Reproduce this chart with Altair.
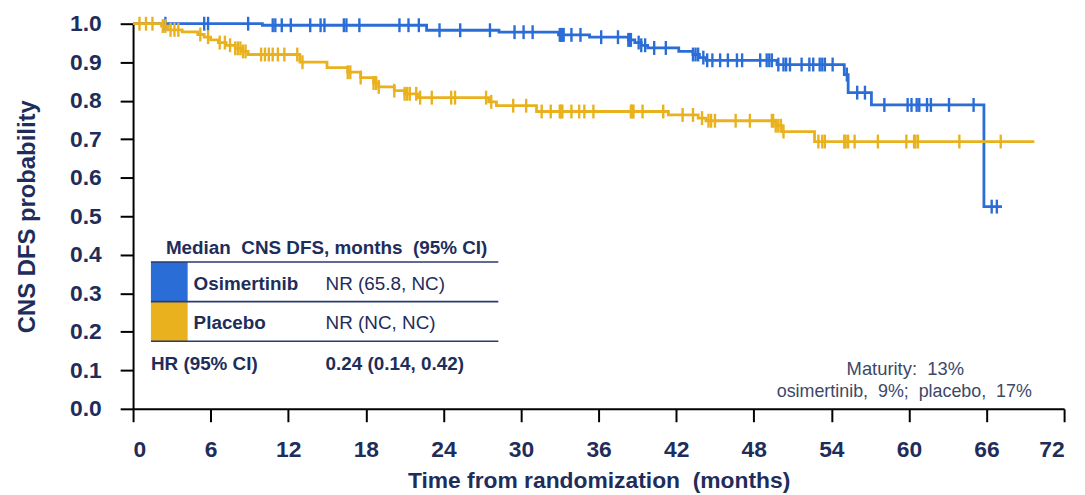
import altair as alt
import pandas as pd

# ---- Kaplan-Meier step data (time in months, survival probability) ----
osi_t = [0, 10.0, 22.7, 28.3, 32.9, 35.3, 38.3, 38.8, 39.3, 39.8, 42.2, 43.3, 43.8, 44.3,
         49.8, 55.0, 55.3, 57.1, 65.8, 67.2]
osi_s = [1.0, 0.996, 0.983, 0.978, 0.971, 0.965, 0.958, 0.951, 0.944, 0.937, 0.928, 0.920,
         0.912, 0.905, 0.894, 0.868, 0.821, 0.789, 0.525, 0.525]

plc_t = [0, 2.2, 2.7, 3.8, 5.0, 5.5, 6.0, 6.6, 7.2, 7.9, 8.4, 8.9, 12.9, 15.0, 16.6, 17.6,
         18.6, 19.0, 20.2, 21.0, 22.0, 27.5, 28.1, 31.2, 41.4, 43.7, 44.3, 49.7, 50.2, 52.7, 69.7]
plc_s = [1.0, 0.994, 0.984, 0.979, 0.972, 0.965, 0.958, 0.951, 0.944, 0.936, 0.928, 0.920,
         0.900, 0.886, 0.874, 0.860, 0.846, 0.836, 0.826, 0.818, 0.808, 0.797, 0.787, 0.772,
         0.763, 0.755, 0.748, 0.735, 0.720, 0.694, 0.694]

# ---- censoring times ----
osi_cens = [2.5, 5.5, 5.8, 8.9, 10.8, 11.0, 11.5, 12.2, 13.7, 14.5, 14.8, 16.3, 16.5, 17.5,
            20.6, 21.3, 22.1, 23.7, 25.3, 27.6, 29.5, 30.2, 30.9, 33.0, 33.1, 33.2, 33.3, 33.9,
            34.6, 36.2, 37.5, 38.3, 38.4, 38.5, 39.1, 39.3, 39.6, 40.3, 41.2, 43.3, 43.5, 43.7,
            44.1, 44.4, 44.8, 45.4, 46.0, 46.7, 47.1, 48.5, 49.0, 49.2, 49.4, 49.9, 50.3, 50.5,
            50.8, 51.7, 52.3, 52.6, 53.1, 53.3, 53.5, 54.1, 55.2, 56.0, 56.6, 58.1, 59.9, 60.2,
            60.6, 60.8, 61.4, 61.7, 63.1, 65.0, 66.4, 66.8]
plc_cens = [0.5, 1.0, 1.5, 2.3, 2.5, 2.9, 3.2, 3.5, 5.2, 5.8, 6.7, 7.1, 7.5, 7.9, 8.1, 8.3,
            8.5, 8.7, 9.9, 10.2, 10.5, 10.8, 11.2, 11.7, 12.7, 13.1, 16.6, 16.8, 17.6, 18.6,
            18.8, 19.0, 20.2, 21.0, 21.2, 21.4, 21.9, 22.2, 23.1, 24.6, 24.9, 27.3, 27.7, 29.4,
            30.4, 31.6, 32.3, 33.0, 33.1, 33.2, 33.9, 34.5, 34.9, 35.6, 38.5, 38.6, 38.7, 39.4,
            41.0, 42.5, 43.3, 44.0, 44.5, 44.7, 45.0, 46.6, 47.7, 49.4, 49.5, 49.7, 49.9, 50.1,
            50.3, 53.0, 53.3, 53.5, 55.0, 55.1, 55.3, 55.8, 57.6, 59.8, 60.4, 60.5, 60.7, 63.9,
            67.1]

x_ticks = list(range(0, 73, 6))
y_ticks = [round(i * 0.1, 1) for i in range(11)]

BLUE = "#2b6dd6"
GOLD = "#e9b11e"
NAVY = "#1e2d5a"
FONT = "Liberation Sans, Arial, sans-serif"
SP = "\u00a0"


def surv_at(ts, ss, t):
    v = ss[0]
    for ti, si in zip(ts, ss):
        if ti <= t:
            v = si
    return v


osi_df = pd.DataFrame({"t": osi_t, "s": osi_s})
plc_df = pd.DataFrame({"t": plc_t, "s": plc_s})
osi_c = pd.DataFrame({"t": osi_cens, "s": [surv_at(osi_t, osi_s, c) for c in osi_cens]})
plc_c = pd.DataFrame({"t": plc_cens, "s": [surv_at(plc_t, plc_s, c) for c in plc_cens]})

xs = alt.Scale(domain=[0, 72], nice=False, zero=False)
ys = alt.Scale(domain=[0, 1], nice=False)

X = alt.X("t:Q", scale=xs, axis=alt.Axis(
    values=x_ticks, title="Time from randomization" + SP + " (months)", format="d",
    labelPadding=17, titleY=79, titleBaseline="alphabetic", titleFontSize=23))
Y = alt.Y("s:Q", scale=ys, axis=alt.Axis(
    values=y_ticks, format=".1f", title="CNS DFS probability",
    labelPadding=19, titleX=-99, titleBaseline="alphabetic", titleFontSize=24))


def curve(df, color):
    return alt.Chart(df).mark_line(interpolate="step-after", strokeWidth=2.8,
                                   color=color).encode(x=X, y=Y)


def cens(df, color):
    return alt.Chart(df).mark_tick(orient="vertical", size=14, thickness=2.4,
                                   color=color, opacity=1).encode(x=X, y=Y)


one = pd.DataFrame({"a": [0]})


def txt(s, x, y, bold=True, align="left", size=19, color=NAVY):
    return alt.Chart(one).mark_text(
        text=s, align=align, baseline="middle", fontSize=size, font=FONT,
        fontWeight="bold" if bold else "normal", color=color
    ).encode(x=alt.value(x), y=alt.value(y))


def hline(y):
    return alt.Chart(one).mark_rule(color="#2a3a6e", strokeWidth=1.6).encode(
        x=alt.value(18), x2=alt.value(368), y=alt.value(y))


def box(y1, y2, color):
    return alt.Chart(one).mark_rect(color=color).encode(
        x=alt.value(18), x2=alt.value(55), y=alt.value(y1), y2=alt.value(y2))


table = [
    box(240, 280, BLUE), box(280, 320, GOLD),
    hline(240), hline(280), hline(320),
    txt("Median" + SP + " CNS DFS, months" + SP + " (95% CI)", 195, 226, align="center"),
    txt("Osimertinib", 61, 262),
    txt("NR (65.8, NC)", 194, 262, bold=False),
    txt("Placebo", 61, 302),
    txt("NR (NC, NC)", 194, 302, bold=False),
    txt("HR (95% CI)", 18, 343),
    txt("0.24 (0.14, 0.42)", 194, 343),
    txt("Maturity:" + SP + " 13%", 778, 348, bold=False, align="center", size=18.5,
        color="#3b4868"),
    txt("osimertinib," + SP + " 9%;" + SP + " placebo," + SP + " 17%", 777, 371,
        bold=False, align="center", size=18, color="#3b4868"),
]

chart = alt.layer(
    curve(osi_df, BLUE), cens(osi_c, BLUE),
    curve(plc_df, GOLD), cens(plc_c, GOLD),
    *table
).properties(
    width=938, height=388,
    autosize=alt.AutoSizeParams(type="none"),
    padding={"left": 126, "top": 14, "right": 13, "bottom": 85},
).configure_view(stroke=None).configure_axis(
    grid=False, domainColor="black", domainWidth=2, tickColor="black", tickWidth=2,
    tickSize=13, labelFont=FONT, labelFontSize=23, labelFontWeight="bold",
    labelColor=NAVY, titleFont=FONT, titleFontWeight="bold", titleColor=NAVY,
)

chart.save("out.html", embed_options={"renderer": "svg", "actions": False})
